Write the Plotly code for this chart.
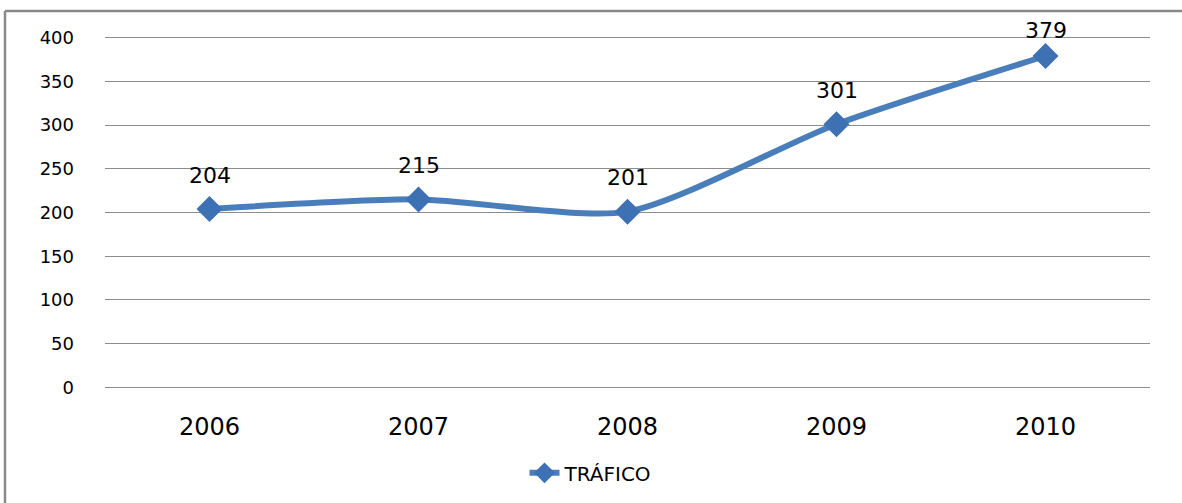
import plotly.graph_objects as go

years = ["2006", "2007", "2008", "2009", "2010"]
trafico = [204, 215, 201, 301, 379]
y_ticks = [0, 50, 100, 150, 200, 250, 300, 350, 400]

line_color = "#4a7ebb"

L, R, T, B = 105, 32, 35, 113
W, H = 1182, 503
pw = W - L - R
ph = H - T - B
y_range = [-3, 403]
ppu = ph / (y_range[1] - y_range[0])

fig = go.Figure()
fig.add_trace(go.Scatter(
    x=years, y=trafico, name="TRÁFICO",
    mode="lines+markers",
    line=dict(color=line_color, width=6, shape="spline", smoothing=0.7),
    marker=dict(symbol="diamond", size=20, color="#3d71b3"),
))

for i, yv in enumerate(trafico):
    point_px = T + (y_range[1] - yv) * ppu
    shift = min(34, point_px - 30)
    fig.add_annotation(x=i, y=yv, xref="x", yref="y", text=str(yv),
                       showarrow=False, yshift=shift,
                       font=dict(family="DejaVu Sans", size=22, color="#000000"))

def px(xp):
    return (xp - L) / pw

def py(yp):
    return (H - B - yp) / ph

border = "#8a8a8a"
fig.add_shape(type="line", xref="paper", yref="paper",
              x0=px(5), x1=px(W + 5), y0=py(11), y1=py(11),
              line=dict(color=border, width=2.5))
fig.add_shape(type="line", xref="paper", yref="paper",
              x0=px(5), x1=px(5), y0=py(11), y1=py(H + 5),
              line=dict(color=border, width=2.5))

fig.update_layout(
    width=W, height=H,
    margin=dict(l=L, r=R, t=T, b=B),
    paper_bgcolor="white", plot_bgcolor="white",
    font=dict(family="DejaVu Sans", color="#000"),
    showlegend=True,
    legend=dict(orientation="h", xref="container", yref="container",
                x=0.5, xanchor="center", y=0.06, yanchor="middle",
                font=dict(size=20, family="DejaVu Sans")),
    xaxis=dict(type="category", range=[-0.5, 4.5], showgrid=False,
               showline=False, zeroline=False, ticks="",
               tickfont=dict(size=24), ticklabelstandoff=20),
    yaxis=dict(range=y_range, tickvals=y_ticks, showgrid=True,
               gridcolor="#8c8c8c", gridwidth=1, zeroline=False,
               showline=False, ticks="", tickfont=dict(size=18),
               ticklabelstandoff=30),
)

fig.write_html("out.html", config={"displayModeBar": False},
               post_script="document.body.style.margin='0';")
